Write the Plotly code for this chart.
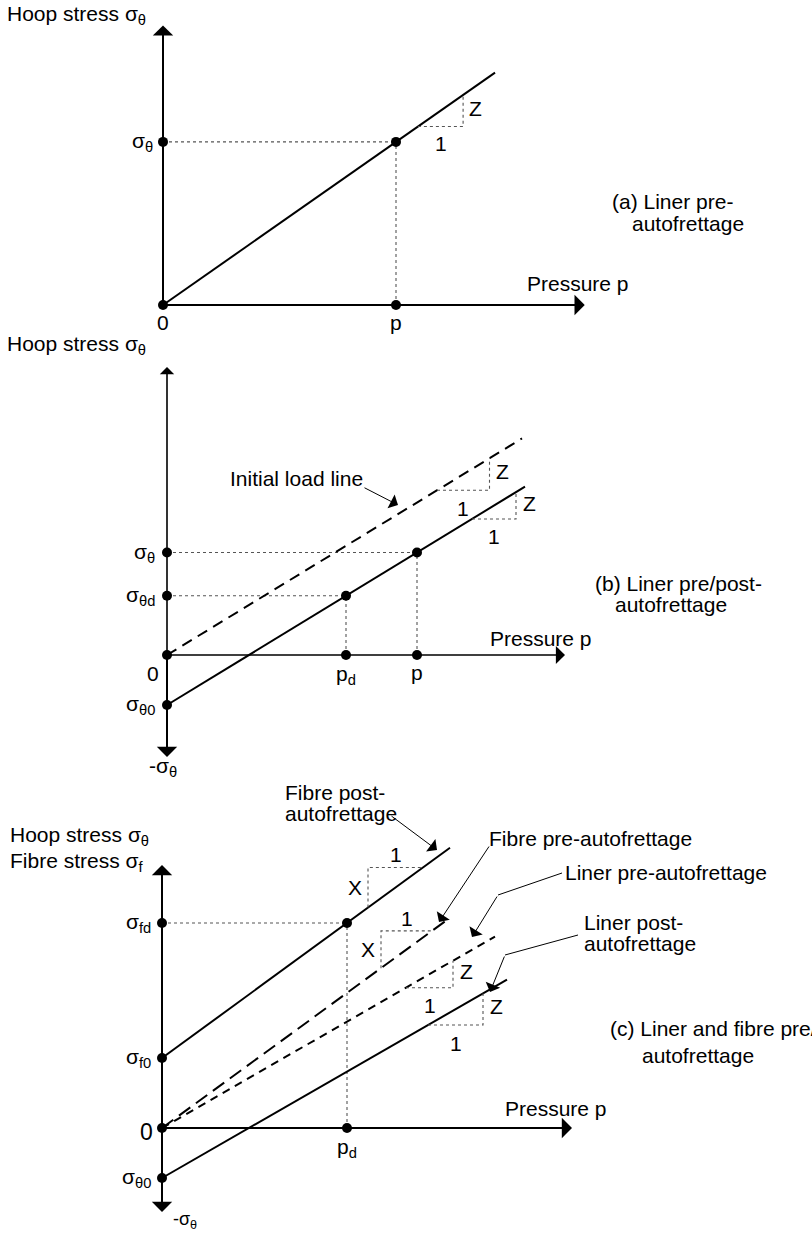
import plotly.graph_objects as go

W, H = 812, 1233
FONT = "Liberation Sans, Arial, Helvetica, sans-serif"
FS = 21

# ---------------- schematic values (pressure and stress in arbitrary units) ----
# (a) liner before autofrettage
A_Z = 0.70                 # hoop-stress slope Z
A_P = 1.00                 # pressure p
A_P_END = 1.425            # end of drawn load line
A_TRI = [1.094, 1.288]     # pressure span of the slope triangle
A_AXIS = [1.81, 1.20]      # x / y arrow extents

# (b) liner before / after autofrettage
B_Z = 0.61
B_S0 = -0.20               # residual hoop stress sigma_theta0
B_PD = 0.716               # autofrettage pressure p_d
B_P = 1.00
B_P_END = 1.432
B_INIT_END = 1.42
B_TRI_INIT = [1.08, 1.29]
B_TRI_POST = [1.22, 1.396]
B_AXIS = [1.592, 1.152, -0.408]

# (c) liner and fibre
C_X = 0.73                 # fibre slope X
C_Z = 0.575                # liner slope Z
C_SF0 = 0.28               # residual fibre stress sigma_f0
C_ST0 = -0.20              # residual liner stress sigma_theta0
C_PD = 0.74
C_END_FPOST, C_END_FPRE, C_END_LPRE, C_END_LPOST = 1.152, 1.14, 1.332, 1.38
C_TRI_FPOST = [0.824, 1.044]
C_TRI_FPRE = [0.876, 1.08]
C_TRI_LPRE = [0.976, 1.164]
C_TRI_LPOST = [1.064, 1.284]
C_AXIS = [1.64, 1.052, -0.336]

# ---------------- panel frames: origin pixel, pixels per unit, vertical band ----
PANELS = [
    dict(ox=163, oy=305, scale=233, top=0, bottom=330),
    dict(ox=167, oy=655, scale=250, top=330, bottom=770),
    dict(ox=162, oy=1128, scale=250, top=770, bottom=1233),
]

fig = go.Figure()
annotations = []
axes_layout = {}


def sfx(i):
    return "" if i == 1 else str(i)


for i, pn in enumerate(PANELS, start=1):
    s = pn["scale"]
    axes_layout[f"xaxis{sfx(i)}"] = dict(
        domain=[0, 1], range=[-pn["ox"] / s, (W - pn["ox"]) / s],
        visible=False, anchor=f"y{sfx(i)}", fixedrange=True)
    axes_layout[f"yaxis{sfx(i)}"] = dict(
        domain=[1 - pn["bottom"] / H, 1 - pn["top"] / H],
        range=[(pn["oy"] - pn["bottom"]) / s, (pn["oy"] - pn["top"]) / s],
        visible=False, anchor=f"x{sfx(i)}", fixedrange=True)


def line(i, xs, ys, dash="solid", width=2.0, color="black"):
    fig.add_trace(go.Scatter(
        x=xs, y=ys, mode="lines", xaxis=f"x{sfx(i)}", yaxis=f"y{sfx(i)}",
        line=dict(color=color, width=width, dash=dash),
        showlegend=False, hoverinfo="skip"))


def guide(i, xs, ys):
    line(i, xs, ys, dash="dot", width=1.1, color="#555555")


def dots(i, xs, ys):
    fig.add_trace(go.Scatter(
        x=xs, y=ys, mode="markers", xaxis=f"x{sfx(i)}", yaxis=f"y{sfx(i)}",
        marker=dict(color="black", size=10),
        showlegend=False, hoverinfo="skip"))


def arrow(i, tip, tail, width=2.0, size=1.7):
    ref_x, ref_y = f"x{sfx(i)}", f"y{sfx(i)}"
    annotations.append(dict(
        xref=ref_x, yref=ref_y, axref=ref_x, ayref=ref_y,
        x=tip[0], y=tip[1], ax=tail[0], ay=tail[1], text="",
        showarrow=True, arrowhead=1, arrowsize=size, arrowwidth=width,
        arrowcolor="black", standoff=0, startstandoff=0))


def leader(i, tip, tail):
    arrow(i, tip, tail, width=1.0, size=2.6)


def label(i, x, y, text, xanchor="center", size=FS):
    annotations.append(dict(
        xref=f"x{sfx(i)}", yref=f"y{sfx(i)}", x=x, y=y, text=text,
        showarrow=False, xanchor=xanchor, yanchor="middle",
        font=dict(family=FONT, size=size, color="black")))


def tri_lower_right(i, f, span, letter):
    p1, p2 = span
    guide(i, [p1, p2, p2], [f(p1), f(p1), f(p2)])
    label(i, p2 + 0.018, (f(p1) + f(p2)) / 2 + 0.01, letter, xanchor="left")
    label(i, (p1 + p2) / 2, f(p1) - 0.072, "1")


def tri_upper_left(i, f, span, letter):
    p1, p2 = span
    guide(i, [p1, p1, p2], [f(p1), f(p2), f(p2)])
    label(i, p1 - 0.018, (f(p1) + f(p2)) / 2, letter, xanchor="right")
    label(i, (p1 + p2) / 2, f(p2) + 0.05, "1")


SIG = "σ<sub>θ</sub>"

# ================= (a) =================
fa = lambda p: A_Z * p
arrow(1, (0, A_AXIS[1]), (0, 0))
arrow(1, (A_AXIS[0], 0), (0, 0))
guide(1, [0, A_P], [fa(A_P), fa(A_P)])
guide(1, [A_P, A_P], [0, fa(A_P)])
line(1, [0, A_P_END], [0, fa(A_P_END)])
tri_lower_right(1, fa, A_TRI, "Z")
dots(1, [0, 0, A_P, A_P], [0, fa(A_P), fa(A_P), 0])
label(1, -0.678, 1.245, "Hoop stress " + SIG, xanchor="left")
label(1, -0.036, fa(A_P), SIG, xanchor="right")
label(1, 0, -0.075, "0")
label(1, A_P, -0.075, "p")
label(1, 1.554, 0.094, "Pressure p", xanchor="left")
label(1, 1.918, 0.446, "(a) Liner pre-", xanchor="left")
label(1, 2.004, 0.348, "autofrettage", xanchor="left")

# ================= (b) =================
fb_init = lambda p: B_Z * p
fb_post = lambda p: B_S0 + B_Z * p
arrow(2, (0, B_AXIS[1]), (0, 0), width=1.6, size=1.5)
arrow(2, (0, B_AXIS[2]), (0, 0), width=2.0)
arrow(2, (B_AXIS[0], 0), (0, 0), width=1.6, size=1.9)
guide(2, [0, B_P], [fb_post(B_P), fb_post(B_P)])
guide(2, [B_P, B_P], [0, fb_post(B_P)])
guide(2, [0, B_PD], [fb_post(B_PD), fb_post(B_PD)])
guide(2, [B_PD, B_PD], [0, fb_post(B_PD)])
line(2, [0, B_INIT_END], [0, fb_init(B_INIT_END)], dash="11px,7px")
line(2, [0, B_P_END], [B_S0, fb_post(B_P_END)])
tri_lower_right(2, fb_init, B_TRI_INIT, "Z")
tri_lower_right(2, fb_post, B_TRI_POST, "Z")
dots(2, [0, 0, 0, 0, B_PD, B_P, B_PD, B_P],
     [0, fb_post(B_P), fb_post(B_PD), B_S0, 0, 0, fb_post(B_PD), fb_post(B_P)])
label(2, -0.648, 1.24, "Hoop stress " + SIG, xanchor="left")
label(2, -0.04, fb_post(B_P), SIG, xanchor="right")
label(2, -0.04, fb_post(B_PD), "σ<sub>θd</sub>", xanchor="right")
label(2, -0.04, B_S0, "σ<sub>θ0</sub>", xanchor="right")
label(2, -0.056, -0.072, "0")
label(2, -0.016, -0.448, "-" + SIG)
label(2, B_PD, -0.08, "p<sub>d</sub>")
label(2, B_P, -0.07, "p")
label(2, 1.284, 0.068, "Pressure p", xanchor="left")
label(2, 0.244, 0.708, "Initial load line", xanchor="left")
leader(2, (0.924, 0.60), (0.784, 0.672))
label(2, 1.704, 0.288, "(b) Liner pre/post-", xanchor="left")
label(2, 1.784, 0.204, "autofrettage", xanchor="left")

# ================= (c) =================
f_fpost = lambda p: C_SF0 + C_X * p
f_fpre = lambda p: C_X * p
f_lpre = lambda p: C_Z * p
f_lpost = lambda p: C_ST0 + C_Z * p
arrow(3, (0, C_AXIS[1]), (0, 0))
arrow(3, (0, C_AXIS[2]), (0, 0))
arrow(3, (C_AXIS[0], 0), (0, 0))
guide(3, [0, C_PD], [f_fpost(C_PD), f_fpost(C_PD)])
guide(3, [C_PD, C_PD], [0, f_fpost(C_PD)])
line(3, [0, C_END_FPOST], [C_SF0, f_fpost(C_END_FPOST)])
line(3, [0, C_END_FPRE], [0, f_fpre(C_END_FPRE)], dash="14px,7px")
line(3, [0, C_END_LPRE], [0, f_lpre(C_END_LPRE)], dash="8px,6px")
line(3, [0, C_END_LPOST], [C_ST0, f_lpost(C_END_LPOST)])
tri_upper_left(3, f_fpost, C_TRI_FPOST, "X")
tri_upper_left(3, f_fpre, C_TRI_FPRE, "X")
tri_lower_right(3, f_lpre, C_TRI_LPRE, "Z")
tri_lower_right(3, f_lpost, C_TRI_LPOST, "Z")
dots(3, [0, 0, 0, 0, C_PD, C_PD],
     [f_fpost(C_PD), C_SF0, 0, C_ST0, 0, f_fpost(C_PD)])
label(3, -0.616, 1.168, "Hoop stress " + SIG, xanchor="left")
label(3, -0.616, 1.064, "Fibre stress σ<sub>f</sub>", xanchor="left")
label(3, -0.036, f_fpost(C_PD), "σ<sub>fd</sub>", xanchor="right")
label(3, -0.036, C_SF0, "σ<sub>f0</sub>", xanchor="right")
label(3, -0.064, -0.016, "0", size=23)
label(3, -0.036, C_ST0, "σ<sub>θ0</sub>", xanchor="right")
label(3, 0.092, -0.368, "-" + SIG, size=18)
label(3, C_PD, -0.08, "p<sub>d</sub>")
label(3, 1.364, 0.08, "Pressure p", xanchor="left")

# callouts
label(3, 0.484, 1.344, "Fibre post-", xanchor="left")
label(3, 0.484, 1.26, "autofrettage", xanchor="left")
leader(3, (1.10, 1.112), (0.912, 1.252))
label(3, 1.30, 1.16, "Fibre pre-autofrettage", xanchor="left")
leader(3, (1.108, 0.824), (1.312, 1.132))
label(3, 1.604, 1.024, "Liner pre-autofrettage", xanchor="left")
line(3, [1.60, 1.344], [1.02, 0.932], width=1.0)
leader(3, (1.24, 0.764), (1.344, 0.932))
label(3, 1.68, 0.824, "Liner post-", xanchor="left")
label(3, 1.68, 0.74, "autofrettage", xanchor="left")
line(3, [1.664, 1.372], [0.772, 0.692], width=1.0)
leader(3, (1.312, 0.544), (1.372, 0.692))
label(3, 1.784, 0.40, "(c) Liner and fibre pre/post-", xanchor="left")
label(3, 1.912, 0.292, "autofrettage", xanchor="left")

fig.update_layout(
    width=W, height=H, margin=dict(l=0, r=0, t=0, b=0),
    paper_bgcolor="white", plot_bgcolor="white",
    font=dict(family=FONT, size=FS, color="black"),
    annotations=annotations, **axes_layout)

fig.write_html("out.html", config={"displayModeBar": False})
